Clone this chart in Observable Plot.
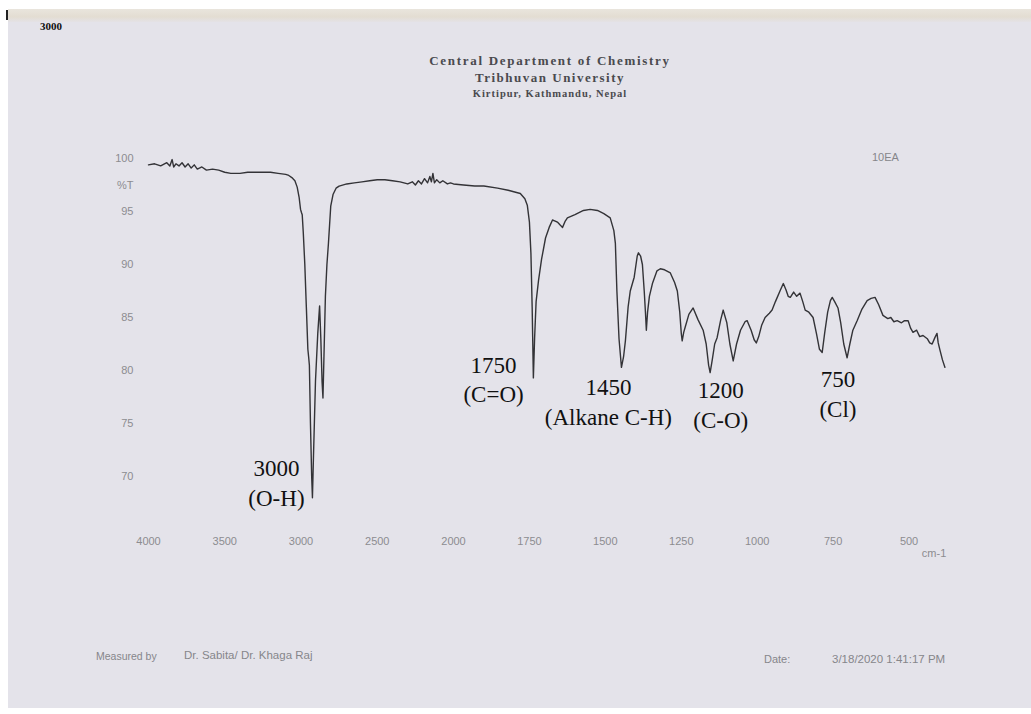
<!DOCTYPE html>
<html>
<head>
<meta charset="utf-8">
<script src="https://cdn.jsdelivr.net/npm/d3@7"></script>
<script src="https://cdn.jsdelivr.net/npm/@observablehq/plot@0.6"></script>
<style>
  html, body { margin: 0; padding: 0; background: #ffffff; }
  #sheet { position: relative; width: 1031px; height: 714px; overflow: hidden; background: #ffffff; }
  #paper { position: absolute; left: 8px; top: 9px; right: 0; bottom: 6px; background: #e4e3ea; }
  #edge { position: absolute; left: 8px; top: 9px; right: 0; height: 13px;
          background: linear-gradient(#e9e5dd, #e3ddd2 60%, #e4e2e6); }
  #mark { position: absolute; left: 6px; top: 10px; width: 2px; height: 10px; background: #222; }
  .t { position: absolute; white-space: nowrap; }
  .serif { font-family: "Liberation Serif", "Times New Roman", serif; }
  .narrow { font-family: "Liberation Sans Narrow", "Arial Narrow", "Liberation Sans", sans-serif; color: #86868a; }
  #chart { position: absolute; left: 0; top: 0; }
</style>
</head>
<body>
<div id="sheet">
  <div id="paper"></div>
  <div id="edge"></div>
  <div id="mark"></div>
  <div class="t serif" style="left:40px; top:20px; font-size:11px; font-weight:bold; color:#111;">3000</div>
  <div class="t serif" style="left:0; width:1100px; top:53px; text-align:center; font-size:13px; font-weight:bold; letter-spacing:1.7px; color:#4a4a4e;">Central Department of Chemistry</div>
  <div class="t serif" style="left:0; width:1100px; top:70px; text-align:center; font-size:13px; font-weight:bold; letter-spacing:1.5px; color:#4a4a4e;">Tribhuvan University</div>
  <div class="t serif" style="left:0; width:1100px; top:88px; text-align:center; font-size:10.5px; font-weight:bold; letter-spacing:1px; color:#4a4a4e;">Kirtipur, Kathmandu, Nepal</div>
  <div class="t narrow" style="left:872px; top:151px; font-size:11px;">10EA</div>
  <div class="t narrow" style="left:96px; top:650px; font-size:10.5px;">Measured by</div>
  <div class="t narrow" style="left:184px; top:649px; font-size:11.5px;">Dr. Sabita/ Dr. Khaga Raj</div>
  <div class="t narrow" style="left:764px; top:653px; font-size:11px;">Date:</div>
  <div class="t narrow" style="left:832px; top:653px; font-size:11.5px;">3/18/2020 1:41:17 PM</div>
  <div id="chart"></div>
</div>
<script>
// IR transmission spectrum: wavenumber (cm-1) against %T
const wavenumber = [
  4000, 3960, 3920, 3880, 3860, 3845, 3835, 3820, 3800, 3780, 3760, 3740, 3720, 3700, 3680, 3650, 3620, 3580,
  3540, 3500, 3460, 3400, 3350, 3300, 3250, 3200, 3150, 3100, 3080, 3060, 3040, 3025, 3012, 3003, 2997, 2992,
  2985, 2975, 2965, 2955, 2950, 2945, 2938, 2930, 2925, 2918, 2905, 2890, 2878, 2870, 2862, 2856, 2850, 2840,
  2830, 2820, 2805, 2790, 2770, 2750, 2700, 2650, 2600, 2550, 2500, 2450, 2400, 2350, 2300, 2270, 2250, 2230,
  2210, 2190, 2170, 2155, 2145, 2135, 2125, 2110, 2090, 2070, 2040, 2020, 2000, 1967, 1930, 1900, 1855, 1820,
  1780, 1765, 1757, 1750, 1745, 1741, 1737, 1733, 1728, 1720, 1710, 1697, 1685, 1674, 1665, 1658, 1648, 1641,
  1632, 1625, 1600, 1572, 1550, 1526, 1505, 1484, 1472, 1467, 1462, 1455, 1447, 1440, 1434, 1425, 1418, 1405,
  1395, 1391, 1384, 1378, 1372, 1368, 1365, 1361, 1355, 1345, 1330, 1319, 1305, 1286, 1272, 1263, 1255, 1250,
  1247, 1242, 1237, 1225, 1211, 1195, 1178, 1168, 1160, 1155, 1148, 1140, 1132, 1120, 1112, 1100, 1090, 1079,
  1068, 1055, 1040, 1033, 1020, 1010, 1003, 995, 985, 974, 960, 951, 940, 934, 925, 914, 905, 898, 891, 880,
  870, 859, 850, 842, 830, 816, 805, 795, 786, 778, 768, 759, 753, 745, 734, 725, 715, 704, 695, 685, 671, 655,
  638, 625, 612, 600, 586, 570, 560, 550, 539, 525, 515, 503, 495, 487, 475, 465, 454, 440, 432, 424, 415, 408,
  404, 398, 390, 382
];
const transmittance = [
  99.4, 99.5, 99.3, 99.6, 99.3, 99.9, 99.2, 99.5, 99.3, 99.6, 99.2, 99.5, 99.1, 99.4, 99.0, 99.2, 98.9, 99.0,
  98.9, 98.7, 98.6, 98.6, 98.7, 98.7, 98.7, 98.7, 98.6, 98.5, 98.4, 98.2, 97.9, 97.3, 96.3, 95.2, 94.9, 94.7,
  93.0, 90.0, 86.0, 82.0, 81.3, 80.5, 75.0, 70.0, 68.0, 72.0, 79.0, 83.5, 86.1, 83.0, 79.0, 77.4, 81.0, 87.0,
  90.0, 92.0, 95.5, 96.6, 97.2, 97.4, 97.6, 97.7, 97.8, 97.9, 98.0, 98.0, 97.9, 97.8, 97.6, 97.8, 97.5, 97.9,
  97.6, 98.1, 97.7, 98.3, 97.8, 98.6, 97.7, 98.0, 97.7, 97.9, 97.6, 97.7, 97.6, 97.5, 97.4, 97.4, 97.2, 97.0,
  96.7, 96.2, 95.6, 94.0, 91.0, 86.0, 79.3, 83.0, 86.5, 88.5, 90.5, 92.5, 93.5, 94.2, 94.1, 94.0, 93.7, 93.5,
  94.1, 94.4, 94.7, 95.1, 95.2, 95.1, 94.8, 94.4, 93.2, 92.0, 87.5, 83.0, 80.3, 81.3, 82.8, 86.0, 87.5, 88.8,
  90.8, 91.1, 90.8, 90.0, 87.5, 85.5, 83.8, 85.5, 87.0, 88.2, 89.4, 89.6, 89.5, 89.2, 88.3, 87.5, 85.5, 83.5,
  82.8, 83.6, 84.1, 85.3, 85.9, 84.8, 83.8, 82.5, 80.5, 79.8, 81.0, 82.5, 83.1, 84.8, 85.7, 84.5, 82.5, 80.9,
  82.5, 83.8, 84.6, 84.7, 83.8, 82.9, 82.6, 83.2, 84.3, 85.0, 85.4, 85.7, 86.5, 86.9, 87.5, 88.2, 87.6, 87.0, 86.9, 87.4,
  87.0, 87.3, 86.5, 85.7, 85.5, 85.0, 83.5, 82.0, 81.7, 83.5, 85.5, 86.6, 86.9, 86.5, 85.9, 84.5, 82.5, 81.2, 82.5, 83.8, 84.7, 85.8,
  86.6, 86.8, 86.9, 86.2, 85.2, 84.9, 85.0, 84.6, 84.7, 84.5, 84.7, 84.7, 84.0, 83.6, 83.8, 83.2, 83.3, 83.0, 82.6, 82.5, 83.1, 83.5,
  82.6, 81.9, 81.0, 80.3
];

// Axis ticks printed on the chart sheet
const xTicks = [4000, 3500, 3000, 2500, 2000, 1750, 1500, 1250, 1000, 750, 500];
const yTicks = [100, 95, 90, 85, 80, 75, 70];

// Band assignments written onto the spectrum
const bandText = ["3000\n(O-H)", "1750\n(C=O)", "1450\n(Alkane C-H)", "1200\n(C-O)", "750\n(Cl)"];
const bandX = [3161, 1868, 1490, 1120, 734];
const bandY = [69.5, 79.3, 77.2, 76.9, 77.9];

const spectrum = wavenumber.map((w, i) => ({w, t: transmittance[i]}));
const bands = bandText.map((text, i) => ({text, w: bandX[i], t: bandY[i]}));

const chart = Plot.plot({
  width: 1031,
  height: 714,
  marginLeft: 148,
  marginRight: 86,
  marginTop: 150,
  marginBottom: 185,
  style: {
    background: "transparent",
    fontFamily: '"Liberation Sans Narrow", "Arial Narrow", "Liberation Sans", sans-serif',
    fontSize: "11px",
    color: "#8c8c90"
  },
  // the chart paper doubles the scale below 2000 cm-1
  x: {type: "linear", domain: [4000, 2000, 380], range: [148, 453, 945]},
  y: {domain: [100, 70], range: [158, 476]},
  marks: [
    Plot.axisX({ticks: xTicks, tickSize: 0, tickPadding: 8, label: null, tickFormat: d => String(d)}),
    Plot.axisY({ticks: yTicks, tickSize: 0, tickPadding: 15, label: null, tickFormat: d => String(d)}),
    Plot.text([{w: 4000, t: 97.45}], {x: "w", y: "t", text: () => "%T", textAnchor: "end", dx: -15, fill: "#8c8c90"}),
    Plot.text([{w: 500}], {x: "w", frameAnchor: "bottom", text: () => "cm-1", dx: 25, dy: 27, fill: "#8c8c90"}),
    Plot.line(spectrum, {x: "w", y: "t", stroke: "#333337", strokeWidth: 1.4, strokeLinejoin: "round"}),
    Plot.text(bands, {
      x: "w", y: "t", text: "text",
      fontFamily: '"Liberation Serif", "Times New Roman", serif',
      fontSize: 23, lineHeight: 1.3, fill: "#111"
    })
  ]
});

document.getElementById("chart").appendChild(chart);
</script>
</body>
</html>
